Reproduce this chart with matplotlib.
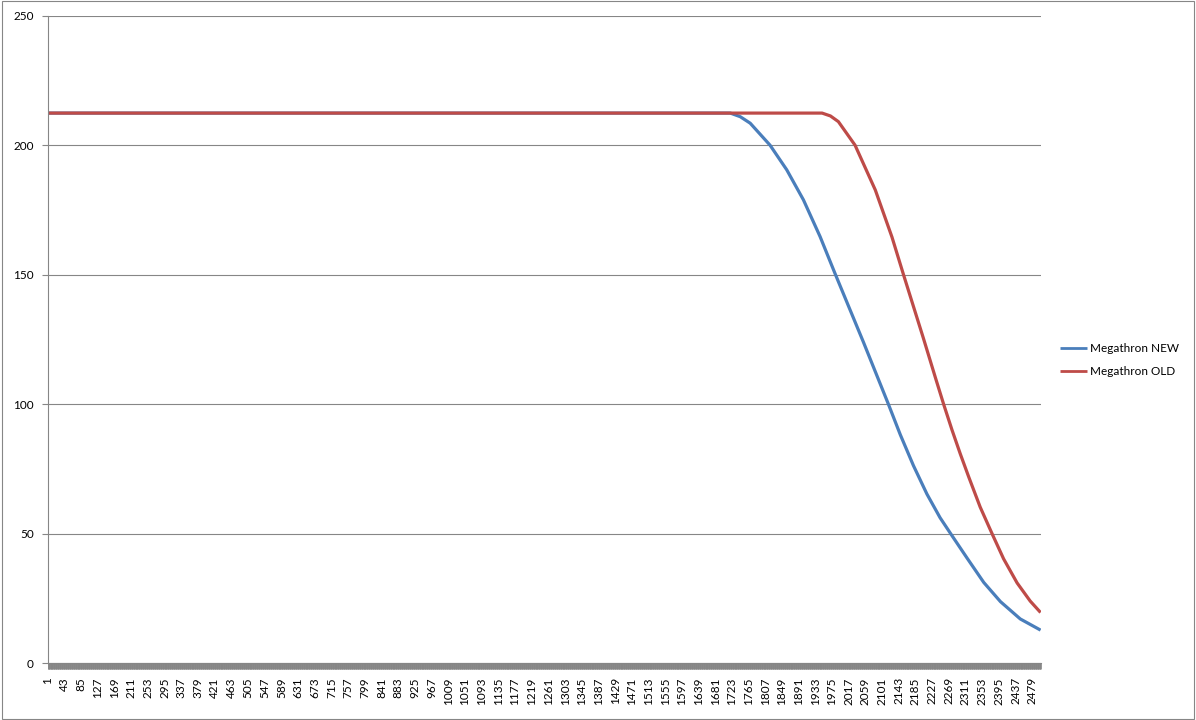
import matplotlib
matplotlib.use("Agg")
import matplotlib.pyplot as plt
from matplotlib.patches import Rectangle

# values (category index -> value)
new_cats = [1, 1719, 1744, 1769, 1819, 1861, 1903, 1945, 1983, 2054, 2096,
            2117, 2147, 2180, 2214, 2247, 2276, 2315, 2357, 2399, 2449, 2500]
new_vals = [212.4, 212.4, 211.0, 208.5, 200.0, 190.5, 178.9, 164.7, 150.3,
            124.0, 108.0, 100.0, 88.2, 76.3, 65.3, 56.2, 49.5, 40.6, 31.2,
            23.8, 17.1, 12.8]

old_cats = [1, 1950, 1971, 1991, 2033, 2084, 2126, 2155, 2205, 2237, 2256,
            2277, 2298, 2319, 2348, 2378, 2407, 2441, 2474, 2500]
old_vals = [212.4, 212.4, 211.3, 209.1, 200.0, 182.7, 164.5, 150.0, 125.5,
            109.4, 100.0, 90.1, 80.8, 72.0, 60.3, 50.0, 40.3, 31.0, 24.0,
            19.6]

n_cats = 2500
label_step = 42
y_ticks = [0, 50, 100, 150, 200, 250]
series_names = ["Megathron NEW", "Megathron OLD"]

AXIS_GRAY = "#868686"
BLUE = "#4A7EBB"
RED = "#BE4B48"

plt.rcParams["font.family"] = ["Lato", "DejaVu Sans"]

fig = plt.figure(figsize=(11.96, 7.2), dpi=100)
ax = fig.add_axes([0.0399, 0.0788, 0.8303, 0.8994])

ax.plot(new_cats, new_vals, color=BLUE, lw=2.3, label=series_names[0],
        solid_joinstyle="round", solid_capstyle="butt")
ax.plot(old_cats, old_vals, color=RED, lw=2.3, label=series_names[1],
        solid_joinstyle="round", solid_capstyle="butt")

ax.set_xlim(0.5, n_cats + 0.5)
ax.set_ylim(0, 250)

# y axis + gridlines
ax.set_yticks(y_ticks)
ax.yaxis.grid(True, color=AXIS_GRAY, lw=0.8)
ax.set_axisbelow(True)
ax.tick_params(axis="y", direction="out", length=4, width=0.8,
               color=AXIS_GRAY, pad=6, labelsize=8.5, labelcolor="black")

# x axis: a tick between every category (forms the dense gray band)
ax.set_xticks([c + 0.5 for c in range(0, n_cats + 1)], minor=True)
ax.set_xticks(list(range(1, n_cats + 1, label_step)))
ax.set_xticklabels([str(c) for c in range(1, n_cats + 1, label_step)],
                   rotation=90)
ax.tick_params(axis="x", which="minor", direction="out", length=4,
               width=0.6, color=AXIS_GRAY)
ax.tick_params(axis="x", which="major", length=0, pad=10, labelsize=8.5)

for side in ["top", "right"]:
    ax.spines[side].set_visible(False)
for side in ["left", "bottom"]:
    ax.spines[side].set_color(AXIS_GRAY)
    ax.spines[side].set_linewidth(0.8)

leg = ax.legend(loc="center left", bbox_to_anchor=(0.877, 0.5),
                bbox_transform=fig.transFigure, frameon=False,
                fontsize=8.5, handlelength=2.3, handletextpad=0.3,
                labelspacing=1.0)
for line in leg.get_lines():
    line.set_linewidth(2.0)

# outer chart border
fig.patches.append(Rectangle((0.0015, 0.002), 0.997, 0.996,
                             transform=fig.transFigure, fill=False,
                             edgecolor=AXIS_GRAY, lw=0.8))

fig.savefig("out.png", dpi=100)
